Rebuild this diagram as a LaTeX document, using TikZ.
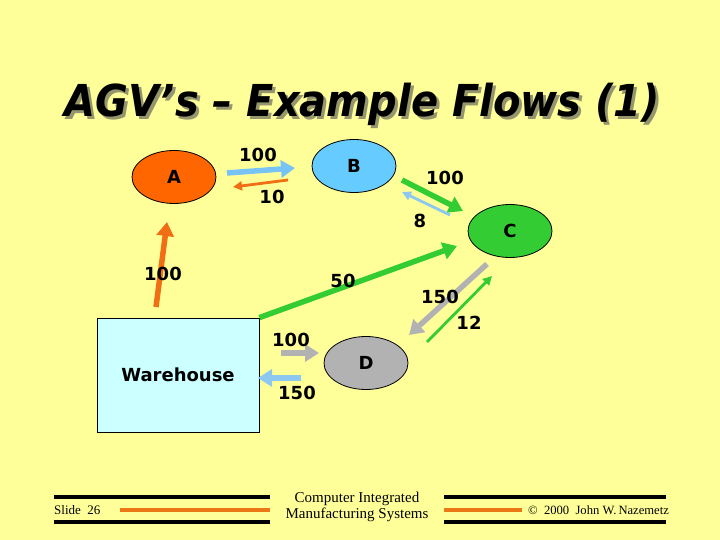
\documentclass[tikz,border=0pt]{standalone}
\usepackage{fontspec}
\usepackage{graphicx}
\setmainfont{Liberation Serif}
\newfontfamily\djb{DejaVu Sans}
\usetikzlibrary{arrows.meta,shapes.geometric}
\definecolor{bg}{RGB}{255,255,153}
\definecolor{cA}{RGB}{255,102,0}
\definecolor{cB}{RGB}{102,204,255}
\definecolor{cC}{RGB}{51,204,51}
\definecolor{cD}{RGB}{178,178,178}
\definecolor{cW}{RGB}{204,255,255}
\definecolor{cArB}{RGB}{120,195,245}
\definecolor{cArBl}{RGB}{140,200,240}
\definecolor{cArO}{RGB}{240,110,20}
\definecolor{cFO}{RGB}{235,120,20}
\definecolor{cSh}{RGB}{150,150,110}
\begin{document}
\begin{tikzpicture}[x=1pt,y=-1pt,
  lbl/.style={font=\djb\bfseries\fontsize{18}{20}\selectfont, inner sep=0pt},
  station/.style={ellipse, draw=black, line width=0.8pt, minimum width=84pt, minimum height=53pt, inner sep=0pt, font=\djb\bfseries\fontsize{18}{20}\selectfont},
  thickarr/.style={line width=5.5pt, -{Triangle[length=14pt,width=17pt]}},
  thinarr/.style={line width=2.8pt, -{Triangle[length=9pt,width=9pt]}},
  footline/.style={line width=3.5pt},
  ttl/.style={font=\djb\bfseries\itshape\fontsize{44}{50}\selectfont, inner sep=0pt, anchor=base}
]
\fill[bg] (0,0) rectangle (720,540);
\useasboundingbox (0,0) rectangle (720,540);

% title with shadow
\node[ttl, text=cSh] (titlesh) at (365.5,119.5) {\resizebox{595pt}{\height}{AGV’s – Example Flows (1)}};
\node[ttl, text=black] (title) at (362.5,117) {\resizebox{595pt}{\height}{AGV’s – Example Flows (1)}};

% stations
\node[station, fill=cA] (A) at (174,177) {A};
\node[station, fill=cB] (B) at (354,166) {B};
\node[station, fill=cC] (C) at (510,231) {C};
\node[station, fill=cD] (D) at (366,363) {D};
\node[draw=black, line width=0.8pt, fill=cW, minimum width=162pt, minimum height=114pt, inner sep=0pt,
      font=\djb\bfseries\fontsize{18}{20}\selectfont] (wh) at (178,375) {Warehouse};

% arrow end points
\coordinate (ab1) at (227,173); \coordinate (ab2) at (295,168);
\coordinate (ba1) at (288,180); \coordinate (ba2) at (233,187);
\coordinate (bc1) at (402,180); \coordinate (bc2) at (463,211);
\coordinate (cb1) at (450,215); \coordinate (cb2) at (402,192);
\coordinate (wc2) at (457,246);
\coordinate (cd1) at (487,264); \coordinate (cd2) at (409,335);
\coordinate (dc1) at (427,342); \coordinate (dc2) at (492,276);
\coordinate (wd1) at (281,353); \coordinate (wd2) at (319,353);
\coordinate (dw1) at (301,378); \coordinate (dw2) at (258,378);
\coordinate (wa1) at (156,307); \coordinate (wa2) at (167,222);

% arrows
\draw[thickarr, draw=cArB, fill=cArB] (ab1) -- (ab2);
\draw[thinarr, draw=cArO, fill=cArO] (ba1) -- (ba2);
\draw[thickarr, draw=cC, fill=cC] (bc1) -- (bc2);
\draw[thinarr, draw=cArBl, fill=cArBl] (cb1) -- (cb2);
\draw[thickarr, draw=cC, fill=cC] (wh.north east) -- (wc2);
\draw[thickarr, draw=cD, fill=cD] (cd1) -- (cd2);
\draw[thinarr, draw=cC, fill=cC] (dc1) -- (dc2);
\draw[thickarr, draw=cD, fill=cD] (wd1) -- (wd2);
\draw[thickarr, draw=cArBl, fill=cArBl] (dw1) -- (dw2);
\draw[thickarr, draw=cArO, fill=cArO] (wa1) -- (wa2);

% labels
\node[lbl] (l1) at (258,155) {100};
\node[lbl] (l2) at (272,197) {10};
\node[lbl] (l3) at (445,178) {100};
\node[lbl] (l4) at (420,221) {8};
\node[lbl] (l5) at (163,274) {100};
\node[lbl] (l6) at (343,281) {50};
\node[lbl] (l7) at (440,297) {150};
\node[lbl] (l8) at (469,323) {12};
\node[lbl] (l9) at (291,340) {100};
\node[lbl] (l10) at (297,393) {150};

% footer
\draw[footline, black] (54,497) -- (270,497);
\draw[footline, black] (54,522) -- (270,522);
\draw[footline, cFO] (120,510) -- (270,510);
\draw[footline, black] (444,497) -- (666,497);
\draw[footline, black] (444,522) -- (666,522);
\draw[footline, cFO] (444,510) -- (522,510);
\node[anchor=west, inner sep=0pt, font=\fontsize{13}{15}\selectfont] (slide) at (54,510) {Slide\ \ 26};
\node[inner sep=0pt, font=\fontsize{15}{17}\selectfont, align=center] (cim) at (357,507) {Computer Integrated\\[-1pt]Manufacturing Systems};
\node[anchor=west, inner sep=0pt, font=\fontsize{12.6}{15}\selectfont] (copy) at (528,510) {©\ \ 2000\ \ John W.\,Nazemetz};
\end{tikzpicture}
\end{document}
